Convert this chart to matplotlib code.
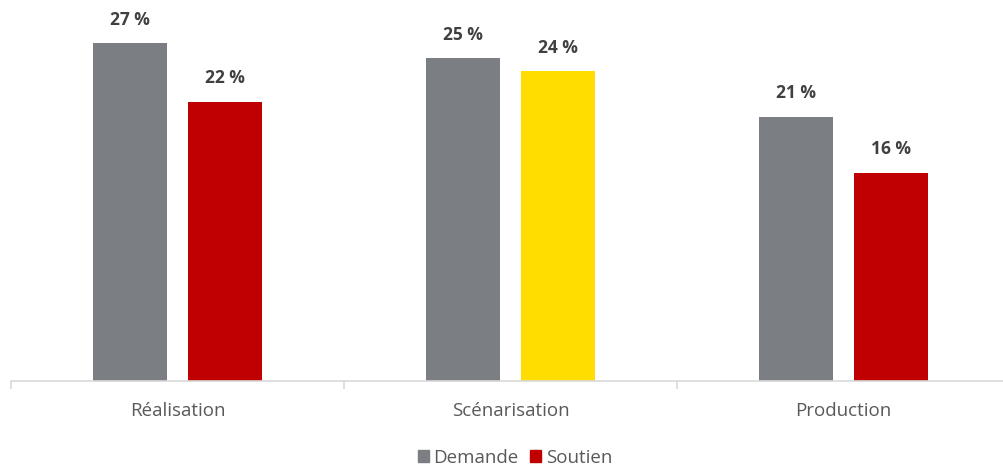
import matplotlib.pyplot as plt
from matplotlib.patches import Patch

categories = ['Réalisation', 'Scénarisation', 'Production']
demande = [26.6, 25.4, 20.8]
soutien = [22.0, 24.4, 16.4]
soutien_colors = ['#C00000', '#FFDD00', '#C00000']

plt.rcParams['font.family'] = ['Open Sans', 'DejaVu Sans']

fig = plt.figure(figsize=(10.04, 4.67), dpi=100)
ax = fig.add_axes([11 / 1004, 86 / 467, 999 / 1004, 381 / 467])

x = range(len(categories))
w = 0.222
off = 0.143
b1 = ax.bar([i - off for i in x], demande, width=w, color='#7B7E82')
b2 = ax.bar([i + off for i in x], soutien, width=w, color=soutien_colors)

for bars, vals in ((b1, demande), (b2, soutien)):
    for b, v in zip(bars, vals):
        ax.annotate(f'{round(v)} %', (b.get_x() + b.get_width() / 2, v),
                    xytext=(0, 10.5), textcoords='offset points',
                    ha='center', va='bottom', fontsize=12.5,
                    fontweight='bold', color='#404040')

ax.set_xlim(-0.5, 2.5)
ax.set_ylim(0, 381 / 12.7)
ax.set_xticks(list(x))
ax.set_xticklabels(categories, fontsize=13.5, color='#595959')
ax.tick_params(axis='x', which='major', length=0, pad=15)
ax.set_xticks([-0.5, 0.5, 1.5, 2.5], minor=True)
ax.tick_params(axis='x', which='minor', length=6, color='#D9D9D9', width=1.2)
ax.set_yticks([])
for s in ['top', 'right', 'left']:
    ax.spines[s].set_visible(False)
ax.spines['bottom'].set_color('#D9D9D9')
ax.spines['bottom'].set_linewidth(1.2)

handles = [Patch(color='#7B7E82', label='Demande'), Patch(color='#C00000', label='Soutien')]
fig.legend(handles=handles, loc='center', bbox_to_anchor=(515 / 1004, 1 - 458 / 467),
           ncol=2, frameon=False, fontsize=13.5, handlelength=0.6, handleheight=0.6,
           handletextpad=0.25, columnspacing=0.6, labelcolor='#595959')

fig.savefig('out.png', dpi=100)
